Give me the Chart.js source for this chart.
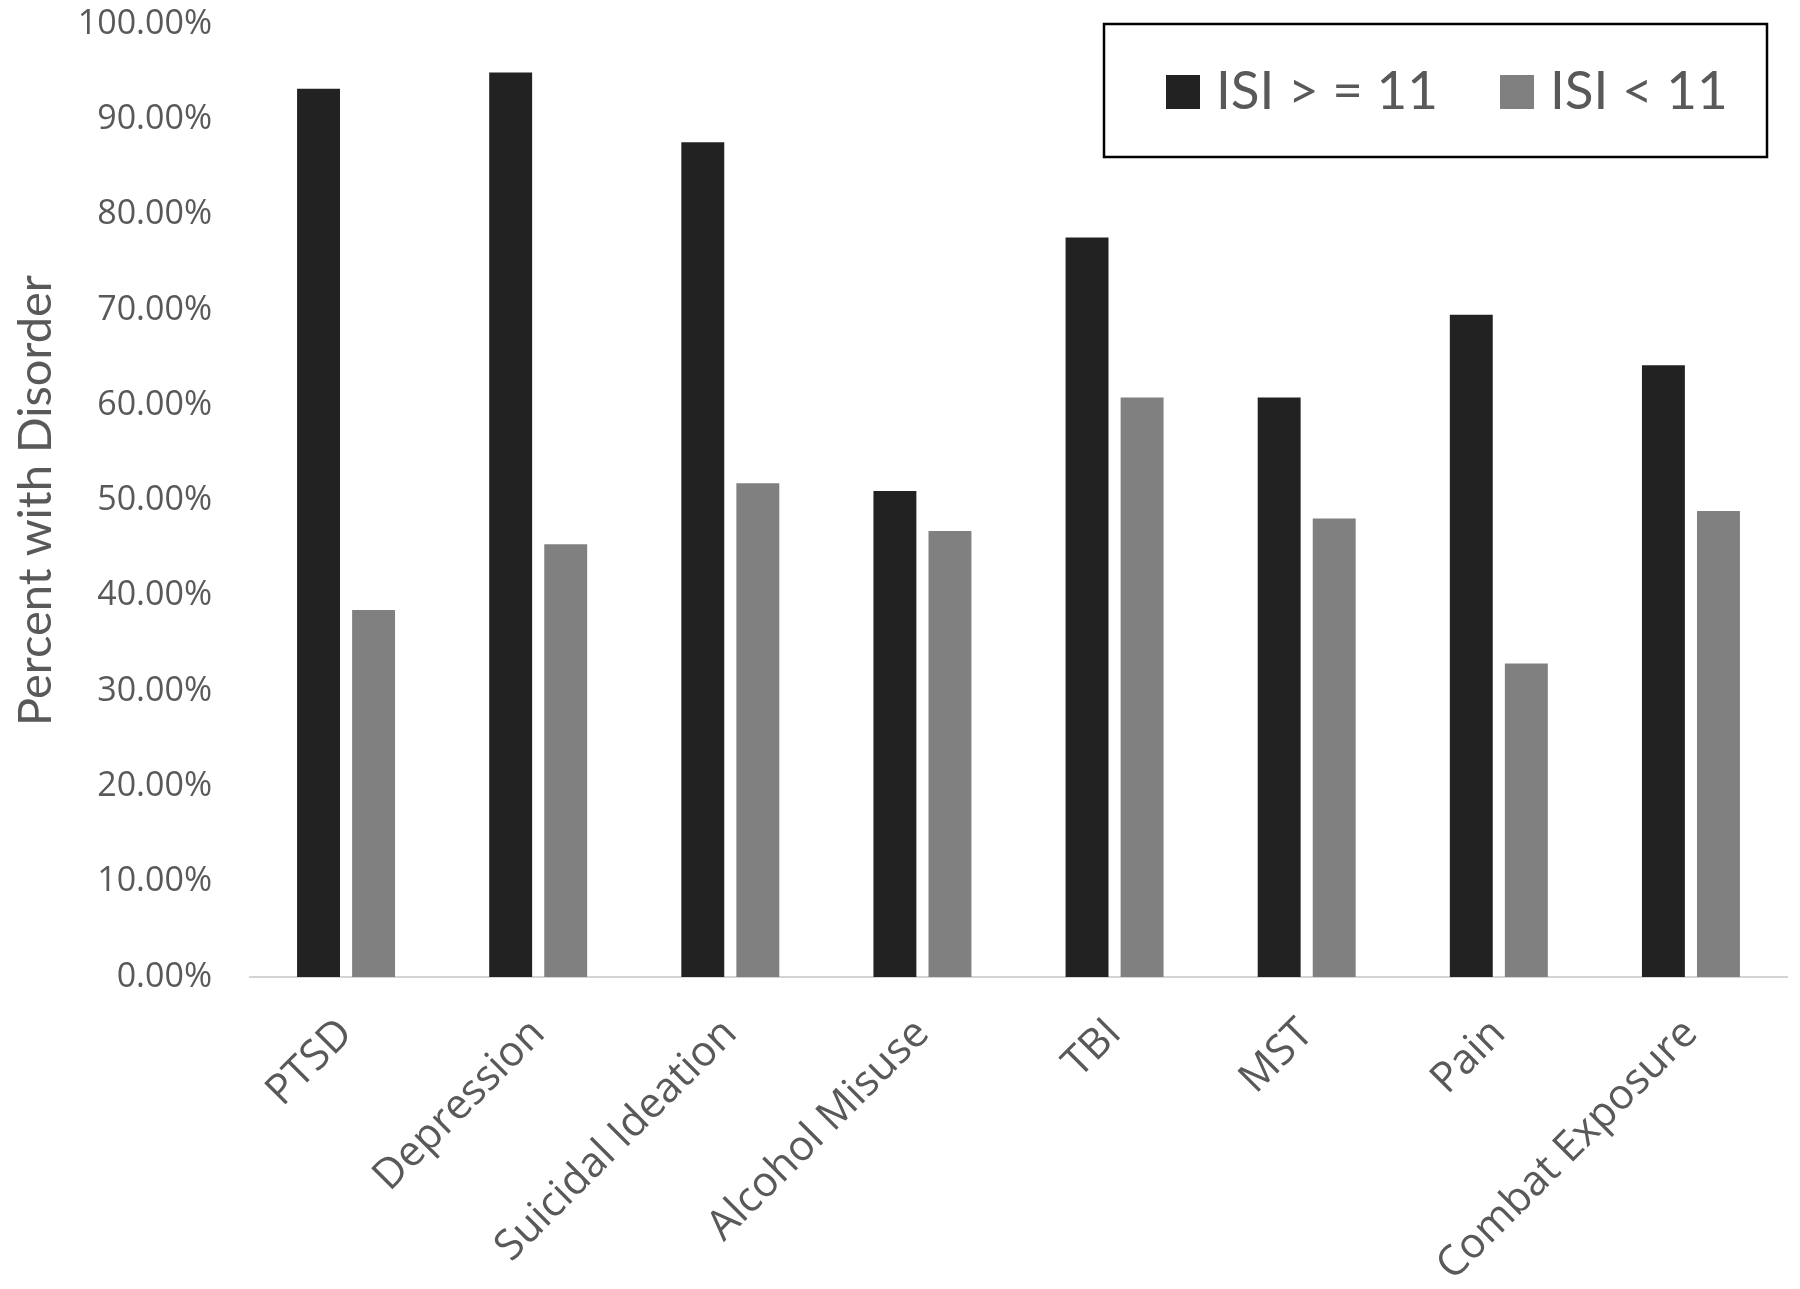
<!DOCTYPE html>
<html>
<head>
<meta charset="utf-8">
<script src="https://cdn.jsdelivr.net/npm/chart.js@4/dist/chart.umd.min.js"></script>
<style>
  html, body { margin: 0; padding: 0; background: #ffffff; }
  #wrap { width: 1800px; height: 1289px; }
</style>
</head>
<body>
<div id="wrap"><canvas id="c" width="1800" height="1289"></canvas></div>
<script>
const categories = ['PTSD', 'Depression', 'Suicidal Ideation', 'Alcohol Misuse', 'TBI', 'MST', 'Pain', 'Combat Exposure'];
const seriesNames = ['ISI > = 11', 'ISI < 11'];
const isiHigh = [93.2, 94.9, 87.6, 51.0, 77.6, 60.8, 69.5, 64.2];
const isiLow = [38.5, 45.4, 51.8, 46.8, 60.8, 48.1, 32.9, 48.9];
const yTicks = [0, 10, 20, 30, 40, 50, 60, 70, 80, 90, 100];

const TEXT = '#595959';

const boxedLegend = {
  id: 'boxedLegend',
  afterDatasetsDraw(chart) {
    const ctx = chart.ctx;
    const area = chart.chartArea;
    const bx = area.right - 683, by = area.top, bw = 663, bh = 133;
    ctx.save();
    ctx.fillStyle = '#ffffff';
    ctx.fillRect(bx, by, bw, bh);
    ctx.strokeStyle = '#000000';
    ctx.lineWidth = 2.5;
    ctx.strokeRect(bx, by, bw, bh);
    ctx.font = '53px Lato';
    ctx.textBaseline = 'alphabetic';
    const starts = [bx + 62, bx + 396];
    chart.data.datasets.forEach((ds, i) => {
      const x = starts[i];
      ctx.fillStyle = ds.backgroundColor;
      ctx.fillRect(x, by + 51, 34, 34);
      ctx.fillStyle = TEXT;
      ctx.fillText(ds.label, x + 50, by + 85);
    });
    ctx.restore();
  }
};

new Chart(document.getElementById('c'), {
  type: 'bar',
  data: {
    labels: categories,
    datasets: [
      { label: seriesNames[0], data: isiHigh, backgroundColor: '#222222', categoryPercentage: 0.573, barPercentage: 0.78 },
      { label: seriesNames[1], data: isiLow, backgroundColor: '#808080', categoryPercentage: 0.573, barPercentage: 0.78 }
    ]
  },
  options: {
    responsive: false,
    animation: false,
    layout: { padding: { top: 24, right: 13, left: 0, bottom: 0 } },
    plugins: {
      legend: { display: false },
      tooltip: { enabled: false }
    },
    scales: {
      x: {
        grid: { display: false, drawTicks: false },
        border: { display: true, color: '#d4d4d4', width: 2 },
        ticks: {
          autoSkip: false,
          minRotation: 45,
          maxRotation: 45,
          padding: 32,
          color: TEXT,
          font: { family: 'Open Sans', size: 42 }
        },
        afterFit(scale) { scale.height = 312; scale.paddingLeft = 0; scale.paddingRight = 0; }
      },
      y: {
        min: 0,
        max: 100,
        afterBuildTicks(scale) { scale.ticks = yTicks.map(v => ({ value: v })); },
        grid: { display: false, drawTicks: false },
        border: { display: false },
        ticks: {
          padding: 38,
          color: TEXT,
          font: { family: 'Open Sans', size: 34 },
          callback: v => Number(v).toFixed(2) + '%'
        },
        title: {
          display: true,
          text: 'Percent with Disorder',
          color: TEXT,
          font: { family: 'Lato', size: 47, lineHeight: 1.2 },
          padding: { top: 8, bottom: 0 }
        },
        afterFit(scale) { scale.width = 250; scale.paddingTop = 0; scale.paddingBottom = 0; }
      }
    }
  },
  plugins: [boxedLegend]
});
</script>
</body>
</html>
